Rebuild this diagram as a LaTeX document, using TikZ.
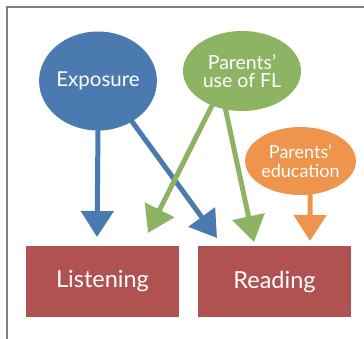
\documentclass[tikz,border=0pt]{standalone}
\usepackage{fontspec}
\setmainfont{Lato}
\usetikzlibrary{shapes.geometric,arrows.meta}
\definecolor{cblue}{HTML}{4A7AAF}
\definecolor{cgreen}{HTML}{8DB462}
\definecolor{corange}{HTML}{EF944C}
\definecolor{cred}{HTML}{B05251}
\definecolor{cframe}{HTML}{7F7F7F}
\tikzset{
  oval/.style={ellipse, inner sep=0pt, text=white, align=center},
  box/.style={rectangle, fill=cred, inner sep=0pt, minimum width=153pt, minimum height=71pt, text=white, font=\fontsize{23.5}{26}\selectfont},
  fat/.style={line width=5pt, -{Triangle[width=32pt,length=26pt]}, shorten <=-1pt},
}
\begin{document}
\begin{tikzpicture}[x=1pt,y=-1pt]
\useasboundingbox (0,0) rectangle (364,339);
\draw[cframe, line width=1.3pt] (7,339) -- (7,7) -- (364,7);
\node[oval, fill=cblue, minimum width=116pt, minimum height=99pt, font=\fontsize{20.5}{22}\selectfont] (expo) at (98,81) {Exposure};
\node[oval, fill=cgreen, minimum width=118pt, minimum height=80pt, font=\fontsize{19.5}{18}\selectfont] (fl) at (242,71) {Parents’\\use of FL};
\node[oval, fill=corange, minimum width=107pt, minimum height=68pt, font=\fontsize{18}{19.5}\selectfont] (edu) at (300.5,161) {Parents’\\education};
\node[box] (list) at (102.5,281.5) {Listening};
\node[box] (read) at (274.5,281.5) {Reading};
\coordinate (t1) at (97,237);
\coordinate (t2) at (217,238);
\coordinate (t3) at (148,233);
\coordinate (t4) at (254,242);
\coordinate (t5) at (310,241);
\draw[fat, cblue] (expo.270) -- (t1);
\draw[fat, cblue] (expo.310) -- (t2);
\draw[fat, cgreen] (fl.229) -- (t3);
\draw[fat, cgreen] (fl.247) -- (t4);
\draw[fat, corange] (edu.286) -- (t5);
\end{tikzpicture}
\end{document}
